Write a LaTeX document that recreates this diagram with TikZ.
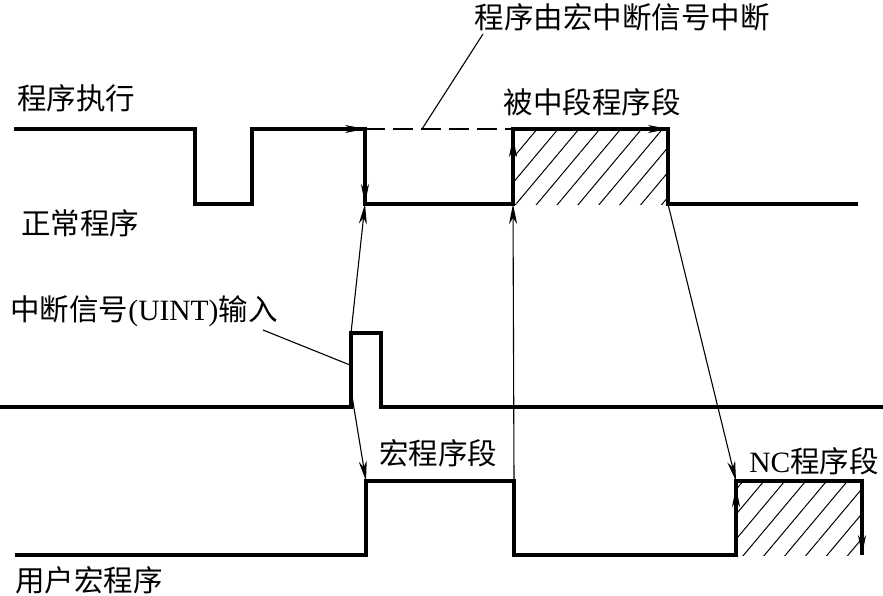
\documentclass[tikz,border=0pt]{standalone}
\usepackage{fontspec}
\setmainfont{Liberation Serif}
\newfontfamily\cjk{Noto Sans CJK SC}
\usetikzlibrary{arrows.meta,patterns.meta}
\begin{document}
\begin{tikzpicture}[x=1pt,y=-1pt,
  wave/.style={line width=3.2pt,line join=miter,line cap=butt},
  thin/.style={line width=1.1pt},
  arr/.style={-{Stealth[length=20pt,width=8pt,inset=6pt]}},
  hatch/.style={pattern={Lines[angle=50,distance=16pt,line width=1pt]}},
  lbl/.style={inner sep=0pt,anchor=center,font=\fontsize{29.5}{33}\selectfont}]
\useasboundingbox (0,0) rectangle (883,595);
% top waveform coordinates
\coordinate (t0) at (14,129);
\coordinate (t1) at (195,129);
\coordinate (t2) at (195,204);
\coordinate (t3) at (252,204);
\coordinate (t4) at (252,129);
\coordinate (t5) at (365,129);
\coordinate (t6) at (365,204);
\coordinate (t7) at (513,204);
\coordinate (t8) at (513,129);
\coordinate (t9) at (668,129);
\coordinate (t10) at (668,204);
\coordinate (t11) at (858,204);
% interrupt waveform
\coordinate (i0) at (0,407);
\coordinate (i1) at (351,407);
\coordinate (i2) at (351,333);
\coordinate (i3) at (381,333);
\coordinate (i4) at (381,407);
\coordinate (i5) at (883,407);
\coordinate (i6) at (351,390);
% bottom waveform
\coordinate (b0) at (15,555);
\coordinate (b1) at (366,555);
\coordinate (b2) at (366,481);
\coordinate (b3) at (514,481);
\coordinate (b4) at (514,555);
\coordinate (b5) at (736,555);
\coordinate (b6) at (736,481);
\coordinate (b7) at (862,481);
\coordinate (b8) at (862,555);
% hatched areas
\fill[hatch] (t8) rectangle (t10);
\fill[hatch] (b6) rectangle (b8);
% thick waveforms
\draw[wave] (t0) -- (t1) -- (t2) -- (t3) -- (t4) -- (t5) -- (t6) -- (t7) -- (t8) -- (t9) -- (t10) -- (t11);
\draw[wave] (i0) -- (i1) -- (i2) -- (i3) -- (i4) -- (i5);
\draw[wave] (b0) -- (b1) -- (b2) -- (b3) -- (b4) -- (b5) -- (b6) -- (b7) -- (b8);
% dashed continuation
\draw[thin,dash pattern=on 20pt off 8pt] (t5) -- (t8);
% arrows on thick lines
\coordinate (a1s) at (330,129);
\draw[thin,arr] (a1s) -- (t5);
\coordinate (a2s) at (365,170);
\draw[thin,arr] (a2s) -- (t6);
\coordinate (a3s) at (513,180);
\coordinate (a3e) at (513,137);
\draw[thin,arr] (a3s) -- (a3e);
\coordinate (a4s) at (635,129);
\draw[thin,arr] (a4s) -- (t9);
\coordinate (a5s) at (736,525);
\coordinate (a5e) at (736,487);
\draw[thin,arr] (a5s) -- (a5e);
\coordinate (a6s) at (862,520);
\draw[thin,arr] (a6s) -- (b8);
% thin connectors
\draw[thin,arr] (i2) -- (t6);
\draw[thin,arr] (i6) -- (b2);
\draw[thin,arr] (b3) -- (t7);
\draw[thin,arr] (t10) -- (b6);
% labels
\node[lbl] (top) at (622,17) {\cjk 程序由宏中断信号中断};
\node[lbl] (bzd) at (592,102) {\cjk 被中段程序段};
\node[lbl] (zx) at (76,98) {\cjk 程序执行};
\node[lbl] (zc) at (80,223) {\cjk 正常程序};
\node[lbl] (int) at (144,311) {{\cjk 中断信号}(UINT){\cjk 输入}};
\node[lbl] (hcx) at (438,453) {\cjk 宏程序段};
\node[lbl] (nc) at (814,461) {NC{\cjk 程序段}};
\node[lbl] (yh) at (89,580) {\cjk 用户宏程序};
% leader lines
\coordinate (l1a) at (483,34);
\coordinate (l1b) at (422,129);
\draw[thin] (l1a) -- (l1b);
\coordinate (l2a) at (263,330);
\coordinate (l2b) at (350,365);
\draw[thin] (l2a) -- (l2b);
\end{tikzpicture}
\end{document}
